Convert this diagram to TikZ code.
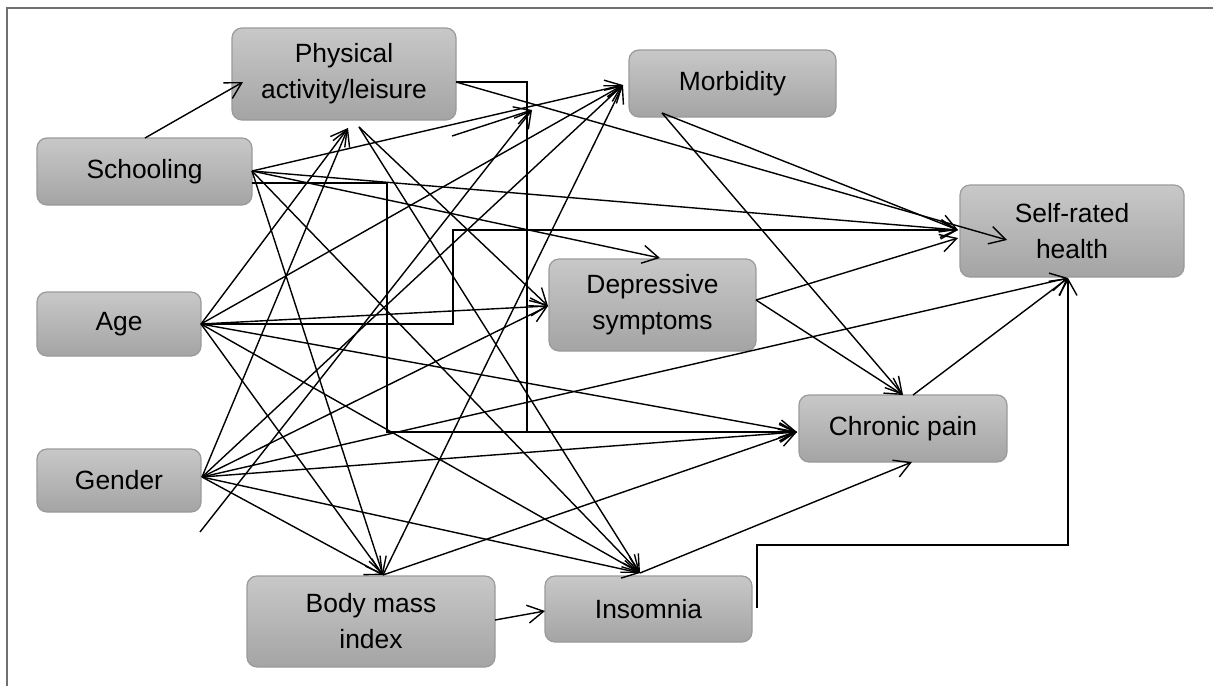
\documentclass[tikz,border=0pt]{standalone}
\usepackage{fontspec}
\setmainfont{Liberation Sans}
\usetikzlibrary{arrows.meta}
\definecolor{boxtop}{HTML}{C8C8C8}
\definecolor{boxbot}{HTML}{A4A4A4}
\definecolor{boxline}{HTML}{9A9A9A}
\definecolor{framecol}{HTML}{707070}
\begin{document}
\begin{tikzpicture}[x=0.5pt,y=-0.5pt,
  box/.style={draw=boxline, line width=0.6pt, rounded corners=5pt, top color=boxtop, bottom color=boxbot, align=center, font=\fontsize{13.2}{18}\selectfont, inner sep=0pt},
  conn/.style={line width=0.7pt, -{Straight Barb[length=8pt,width=9pt]}},
  plain/.style={line width=0.7pt}]
\useasboundingbox (0,0) rectangle (1213,686);
\draw[framecol, line width=1pt] (7,686) -- (7,8) -- (1213,8);

% nodes
\node[box, minimum width=112pt, minimum height=46pt] (PA) at (344,74) {Physical\\activity/leisure};
\node[box, minimum width=107.5pt, minimum height=33.5pt] (S) at (144.5,171.5) {Schooling};
\node[box, minimum width=103.5pt, minimum height=33.5pt] (M) at (732.5,83.5) {Morbidity};
\node[box, minimum width=112pt, minimum height=46pt] (SRH) at (1072,231) {Self-rated\\health};
\node[box, minimum width=82pt, minimum height=32pt] (A) at (119,324) {Age};
\node[box, minimum width=82pt, minimum height=31.5pt] (G) at (119,480.5) {Gender};
\node[box, minimum width=103.5pt, minimum height=46pt] (D) at (652.5,305) {Depressive\\symptoms};
\node[box, minimum width=104pt, minimum height=33.5pt] (CP) at (903,428.5) {Chronic pain};
\node[box, minimum width=124pt, minimum height=45.5pt] (BMI) at (371,621.5) {Body mass\\index};
\node[box, minimum width=103.5pt, minimum height=33pt] (INS) at (648.5,609) {Insomnia};

% anchor points
\coordinate (Stop) at (145,138);
\coordinate (Sr) at (252,171);
\coordinate (Sr2) at (252,183);
\coordinate (PAin) at (243,82);
\coordinate (PAr) at (456,82);
\coordinate (Pb) at (348,128);
\coordinate (Pb2) at (359,127);
\coordinate (Ar) at (201,324);
\coordinate (Gr) at (202,477);
\coordinate (Mid) at (532,110);
\coordinate (Ml) at (623,85);
\coordinate (Mb) at (662,113);
\coordinate (SRl) at (958,230);
\coordinate (SRl2) at (958,238);
\coordinate (SRin) at (1007,240);
\coordinate (SRb) at (1068,278);
\coordinate (Dl) at (548,306);
\coordinate (Dt) at (660,258);
\coordinate (Dr) at (756,300);
\coordinate (CPl) at (797,432);
\coordinate (CPt) at (903,395);
\coordinate (CPt2) at (913,395);
\coordinate (CPb) at (912,462);
\coordinate (BMIt) at (383,575);
\coordinate (BMIr) at (495,620);
\coordinate (INSl) at (545,611);
\coordinate (INSt) at (640,573);
\coordinate (INSr) at (757,608);
\coordinate (free1) at (200,532);
\coordinate (free2) at (452,136);

% Schooling
\draw[conn] (Stop) -- (PAin);
\draw[conn] (Sr) -- (Ml);
\draw[conn] (Sr) -- (SRl);
\draw[conn] (Sr) -- (Dt);
\draw[conn] (Sr) -- (BMIt);
\draw[conn] (Sr) -- (INSt);
\draw[conn] (Sr2) -- (387,183) -- (387,432) -- (CPl);
% Physical activity
\draw[conn] (PAr) -- (SRin);
\draw[conn] (PAr) -- (527,82) -- (527,432) -- (CPl);
\draw[conn] (Pb2) -- (Dl);
\draw[conn] (Pb2) -- (INSt);
% Age
\draw[conn] (Ar) -- (Pb);
\draw[conn] (Ar) -- (Ml);
\draw[conn] (Ar) -- (Dl);
\draw[conn] (Ar) -- (453,324) -- (453,230) -- (SRl);
\draw[conn] (Ar) -- (CPl);
\draw[conn] (Ar) -- (INSt);
\draw[conn] (Ar) -- (BMIt);
% Gender
\draw[conn] (Gr) -- (Pb);
\draw[conn] (Gr) -- (Ml);
\draw[conn] (Gr) -- (Dl);
\draw[conn] (Gr) -- (SRb);
\draw[conn] (Gr) -- (CPl);
\draw[conn] (Gr) -- (INSt);
\draw[conn] (Gr) -- (BMIt);
% stray lines
\draw[conn] (free1) -- (Mid);
\draw[conn] (free2) -- (Mid);
% Morbidity
\draw[conn] (Mb) -- (SRl);
\draw[conn] (Mb) -- (CPt);
% Depressive
\draw[conn] (Dr) -- (SRl2);
\draw[conn] (Dr) -- (CPt);
% Chronic pain
\draw[conn] (CPt2) -- (SRb);
% BMI
\draw[conn] (BMIr) -- (INSl);
\draw[conn] (BMIt) -- (Ml);
\draw[conn] (BMIt) -- (CPl);
% Insomnia
\draw[conn] (INSt) -- (CPb);
\draw[conn] (INSr) -- (757,545) -- (1068,545) -- (SRb);
\end{tikzpicture}
\end{document}
